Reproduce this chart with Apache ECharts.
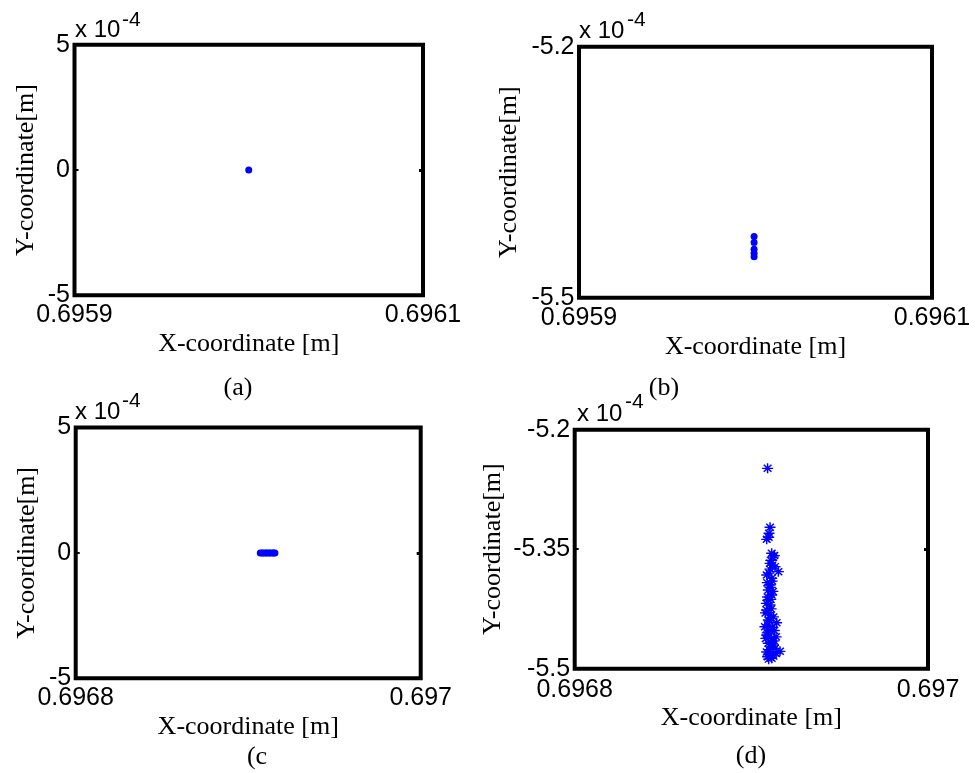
<!DOCTYPE html>
<html>
<head>
<meta charset="utf-8">
<script src="https://cdn.jsdelivr.net/npm/echarts@6/dist/echarts.min.js"></script>
<style>
  html, body { margin: 0; padding: 0; background: #fff; }
  #chart { width: 977px; height: 773px; }
</style>
</head>
<body>
<div id="chart"></div>
<script>
// Y values are stored in units of 1e-4 m (the axis multiplier reads "x 10^-4").

// Tick values
const xTicksAB = [0.6959, 0.6961];
const xTicksCD = [0.6968, 0.697];
const yTicksAC = [-5, 0, 5];
const yTicksB = [-5.5, -5.2];
const yTicksD = [-5.5, -5.35, -5.2];

// (a) single position
const aX = [0.6960];
const aY = [0];

// (b) positions
const bX = [0.6959992, 0.6959992, 0.6959992, 0.6959992, 0.6959992];
const bY = [-5.427, -5.434, -5.442, -5.447, -5.451];

// (c) positions
const cX = [0.696907, 0.696908, 0.6969088, 0.69691, 0.6969108, 0.696912, 0.6969127, 0.696914, 0.6969148, 0.6969155];
const cY = [0, 0, 0, 0, 0, 0, 0, 0, 0, 0];

// (d) positions
const dX = [0.6969092, 0.6969106, 0.69691, 0.6969087, 0.6969098, 0.6969115, 0.6969124, 0.696911, 0.6969106,
            0.6969134, 0.696912, 0.6969153, 0.6969087, 0.69691, 0.6969115, 0.6969106, 0.6969096, 0.6969115,
            0.6969096, 0.6969106, 0.6969087, 0.6969106, 0.6969096, 0.6969143, 0.6969077, 0.6969106, 0.696912,
            0.6969087, 0.6969115, 0.6969096, 0.6969134, 0.6969162, 0.6969087, 0.6969106, 0.6969115, 0.6969125,
            0.696909, 0.69691, 0.6969112, 0.6969092, 0.6969108, 0.6969118, 0.6969128, 0.6969098, 0.696914,
            0.696908, 0.6969125, 0.6969095, 0.696913, 0.6969082, 0.6969118, 0.69691, 0.696914,
            0.6969092, 0.6969125, 0.696911, 0.6969085, 0.6969122, 0.6969105, 0.696913, 0.696909];
const dY = [-5.2485, -5.3225, -5.33, -5.3376, -5.335, -5.3551, -5.36, -5.364, -5.3677,
            -5.3719, -5.37, -5.3782, -5.3824, -5.38, -5.3865, -5.3949, -5.4012, -5.4075,
            -5.4138, -5.42, -5.4263, -5.4326, -5.4389, -5.4423, -5.4473, -5.4514, -5.448,
            -5.4577, -5.4618, -5.4681, -5.4744, -5.4782, -5.479, -5.4828, -5.487, -5.47,
            -5.455, -5.44, -5.425, -5.41, -5.398, -5.39, -5.465, -5.488, -5.46,
            -5.43, -5.435, -5.445, -5.452, -5.462, -5.472, -5.476, -5.481,
            -5.485, -5.484, -5.413, -5.418, -5.403, -5.375, -5.358, -5.392];

const BLUE = '#0000ff';
const SANS = 'Liberation Sans, Arial, sans-serif';
const SERIF = 'Liberation Serif, Times New Roman, serif';
const STAR = 'path://M0,5L10,5M5,0L5,10M1.5,1.5L8.5,8.5M1.5,8.5L8.5,1.5';

const zip = (xs, ys) => xs.map((x, i) => [x, ys[i]]);
const fmtX = v => String(+(+v).toFixed(4));
const fmtY = v => String(+(+v).toFixed(2));

const panels = [
  { rect: { left: 74.5, top: 44.7, width: 348.5, height: 250.6 }, xTicks: xTicksAB, yTicks: yTicksAC,
    xMargin: 7, yNameGap: 35, data: zip(aX, aY), symbol: 'circle', size: 7 },
  { rect: { left: 579, top: 46.7, width: 353, height: 251 }, xTicks: xTicksAB, yTicks: yTicksB,
    xMargin: 7.5, yNameGap: 57, data: zip(bX, bY), symbol: 'circle', size: 7 },
  { rect: { left: 75.7, top: 427.5, width: 345, height: 250.8 }, xTicks: xTicksCD, yTicks: yTicksAC,
    xMargin: 7, yNameGap: 35.5, data: zip(cX, cY), symbol: 'circle', size: 7 },
  { rect: { left: 574.7, top: 429.7, width: 353.3, height: 239 }, xTicks: xTicksCD, yTicks: yTicksD,
    xMargin: 8.5, yNameGap: 68.5, data: zip(dX, dY), symbol: STAR, size: [11, 10] }
];

const grid = [], xAxis = [], yAxis = [], series = [];
panels.forEach((p, i) => {
  grid.push(Object.assign({
    show: true, borderColor: '#000', borderWidth: 4, backgroundColor: 'transparent',
    containLabel: false, outerBoundsMode: 'none'
  }, p.rect));
  const xMin = p.xTicks[0], xMax = p.xTicks[p.xTicks.length - 1];
  const yMin = p.yTicks[0], yMax = p.yTicks[p.yTicks.length - 1];
  xAxis.push({
    gridIndex: i, type: 'value', min: xMin, max: xMax,
    name: 'X-coordinate [m]', nameLocation: 'middle', nameGap: 36,
    nameTextStyle: { fontFamily: SERIF, fontSize: 26, color: '#000' },
    axisLine: { show: false }, splitLine: { show: false },
    axisTick: { show: false },
    axisLabel: { customValues: p.xTicks, formatter: fmtX, margin: p.xMargin,
                 fontFamily: SANS, fontSize: 25, color: '#000', hideOverlap: false }
  });
  yAxis.push({
    gridIndex: i, type: 'value', min: yMin, max: yMax, position: 'left',
    name: 'Y-coordinate[m]', nameLocation: 'middle', nameGap: p.yNameGap,
    nameTextStyle: { fontFamily: SERIF, fontSize: 26, color: '#000' },
    axisLine: { show: false }, splitLine: { show: false },
    axisTick: { show: true, inside: true, length: 4, customValues: p.yTicks, lineStyle: { color: '#000', width: 2 } },
    axisLabel: { customValues: p.yTicks, formatter: fmtY, margin: 4.5,
                 fontFamily: SANS, fontSize: 25, color: '#000', hideOverlap: false }
  });
  // mirrored ticks on the right edge of the box
  yAxis.push({
    gridIndex: i, type: 'value', min: yMin, max: yMax, position: 'right',
    axisLine: { show: false }, splitLine: { show: false }, axisLabel: { show: false },
    axisTick: { show: true, inside: true, length: 4, customValues: p.yTicks, lineStyle: { color: '#000', width: 3 } }
  });
  series.push({
    type: 'scatter', xAxisIndex: i, yAxisIndex: 2 * i, data: p.data,
    symbol: p.symbol, symbolSize: p.size, silent: true, animation: false,
    itemStyle: p.symbol === STAR
      ? { color: 'none', borderColor: BLUE, borderWidth: 1.4, opacity: 1 }
      : { color: BLUE, opacity: 1 }
  });
});

// axis multiplier labels and panel captions
const graphic = [];
const mult = [[75, 30, 122, 20], [579, 31.5, 627, 20], [75, 412, 122, 401], [577, 414, 625, 402]];
mult.forEach(([bx, by, ex, ey]) => {
  graphic.push({ type: 'text', x: bx, y: by, silent: true,
    style: { text: 'x 10', fontFamily: SANS, fontSize: 24, fill: '#000', align: 'left', verticalAlign: 'middle' } });
  graphic.push({ type: 'text', x: ex, y: ey, silent: true,
    style: { text: '-4', fontFamily: SANS, fontSize: 21, fill: '#000', align: 'left', verticalAlign: 'middle' } });
});
const captions = [['(a)', 238, 388], ['(b)', 664, 388], ['(c', 257, 757], ['(d)', 751, 756]];
captions.forEach(([t, x, y]) => {
  graphic.push({ type: 'text', x, y, silent: true,
    style: { text: t, fontFamily: SERIF, fontSize: 26, fill: '#000', align: 'center', verticalAlign: 'middle' } });
});

const chart = echarts.init(document.getElementById('chart'), null, { renderer: 'canvas' });
chart.setOption({
  animation: false,
  backgroundColor: '#fff',
  grid, xAxis, yAxis, series, graphic
});
</script>
</body>
</html>
